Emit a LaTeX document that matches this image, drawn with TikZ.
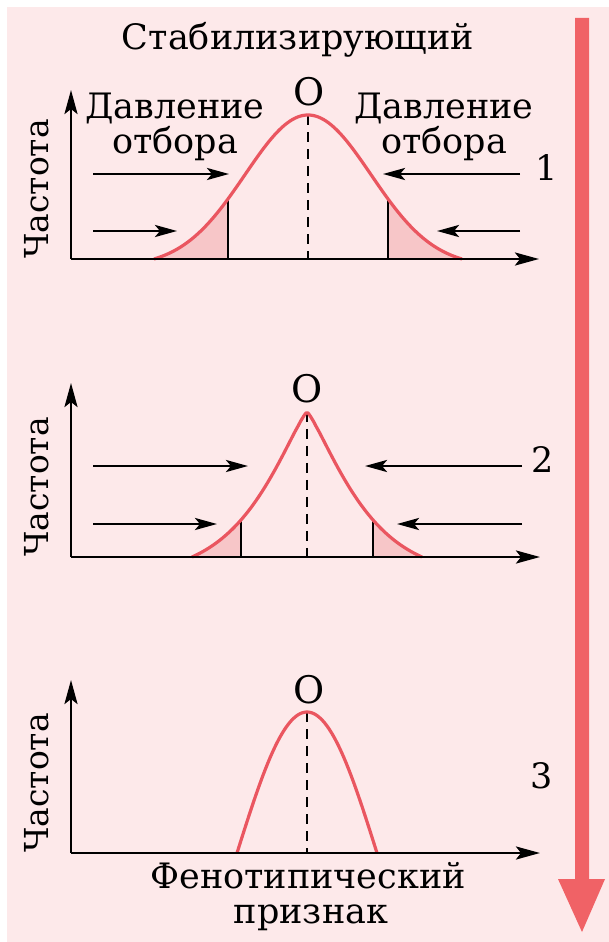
\documentclass[tikz,border=0pt]{standalone}
\usepackage{fontspec}
\setmainfont{DejaVu Serif}
\usetikzlibrary{arrows.meta}
\definecolor{bgpink}{RGB}{253,233,234}
\definecolor{curvered}{RGB}{234,86,96}
\definecolor{tailpink}{RGB}{247,198,200}
\definecolor{bigred}{RGB}{240,98,102}
\pgfmathdeclarefunction{fA}{1}{\pgfmathparse{144*(exp(-0.5*(#1/63)*(#1/63))-0.0504)/0.9496}}
\pgfmathdeclarefunction{fB}{1}{\pgfmathparse{145*(exp(-((abs(#1)+0.01)/62.5)^1.25)-0.1173)/0.8827}}
\pgfmathdeclarefunction{fC}{1}{\pgfmathparse{141*cos(#1*90/70)}}
\tikzset{
  axisline/.style={line width=2.7pt, -{Stealth[length=24pt,width=13pt,inset=5pt]}},
  pressarrow/.style={line width=2.7pt, -{Stealth[length=22pt,width=12pt,inset=5pt]}},
  curveline/.style={curvered, line width=3.2pt, line join=round},
  centerline/.style={line width=2.7pt, dash pattern=on 10pt off 7pt},
  cutline/.style={line width=2.7pt},
  tailfill/.style={fill=tailpink},
  lbl/.style={font=\fontsize{35}{37}\selectfont, anchor=base, inner sep=0pt},
  titlelbl/.style={font=\fontsize{35}{37}\selectfont, anchor=base, inner sep=0pt},
  optlbl/.style={font=\fontsize{38}{40}\selectfont, anchor=base, inner sep=0pt},
  freqlbl/.style={font=\fontsize{33}{35}\selectfont, anchor=base, inner sep=0pt, rotate=90},
  traitlbl/.style={font=\fontsize{35}{37}\selectfont, anchor=base, inner sep=0pt}
}
\begin{document}
\begin{tikzpicture}[x=1pt,y=-1pt]
\useasboundingbox (0,0) rectangle (609,942);
\fill[white] (0,0) rectangle (609,942);
\fill[bgpink] (7,7) rectangle (609,942);
% big trend arrow
\fill[bigred] (575,18) -- (589,18) -- (589,879) -- (605,879) -- (582,932) -- (558,879) -- (575,879) -- cycle;
% title
\node[titlelbl] (title) at (298,50) {Стабилизирующий};

% ---------- panel 1 ----------
\fill[tailfill] plot[domain=-154:-80, samples=40] ({308+\x},{259-fA(\x)}) -- (228,259) -- cycle;
\fill[tailfill] plot[domain=154:80, samples=40] ({308+\x},{259-fA(\x)}) -- (388,259) -- cycle;
\coordinate (o1) at (71,259);
\coordinate (y1) at (71,90);
\coordinate (x1) at (539,259);
\coordinate (peak1) at (308,{259-fA(0)});
\coordinate (foot1) at (308,259);
\coordinate (cl1t) at (228,{259-fA(-80)});
\coordinate (cl1b) at (228,259);
\coordinate (cr1t) at (388,{259-fA(80)});
\coordinate (cr1b) at (388,259);
\draw[centerline] (peak1) -- (foot1);
\draw[cutline] (cl1t) -- (cl1b);
\draw[cutline] (cr1t) -- (cr1b);
\draw[curveline] plot[domain=-154:154, samples=121] ({308+\x},{259-fA(\x)});
\draw[axisline] (o1) -- (y1);
\draw[axisline] (o1) -- (x1);
\coordinate (a1uls) at (93,174);  \coordinate (a1ule) at (229,174);
\coordinate (a1urs) at (520,174); \coordinate (a1ure) at (383,174);
\coordinate (a1lls) at (93,231);  \coordinate (a1lle) at (177,231);
\coordinate (a1lrs) at (520,231); \coordinate (a1lre) at (437,231);
\draw[pressarrow] (a1uls) -- (a1ule);
\draw[pressarrow] (a1urs) -- (a1ure);
\draw[pressarrow] (a1lls) -- (a1lle);
\draw[pressarrow] (a1lrs) -- (a1lre);
\node[lbl] (presL1) at (175,118) {Давление};
\node[lbl] (presL2) at (175,153) {отбора};
\node[lbl] (presR1) at (444,118) {Давление};
\node[lbl] (presR2) at (444,153) {отбора};
\node[optlbl] (opt1) at (309,105) {O};
\node[lbl] (num1) at (547,180) {1};
\node[freqlbl] (freq1) at (48,189) {Частота};

% ---------- panel 2 ----------
\fill[tailfill] plot[domain=-115:-66, samples=30] ({307+\x},{557-fB(\x)}) -- (241,557) -- cycle;
\fill[tailfill] plot[domain=115:66, samples=30] ({307+\x},{557-fB(\x)}) -- (373,557) -- cycle;
\coordinate (o2) at (71,557);
\coordinate (y2) at (71,383);
\coordinate (x2) at (540,557);
\coordinate (peak2) at (307,{557-fB(0)});
\coordinate (foot2) at (307,557);
\coordinate (cl2t) at (241,{557-fB(-66)});
\coordinate (cl2b) at (241,557);
\coordinate (cr2t) at (373,{557-fB(66)});
\coordinate (cr2b) at (373,557);
\draw[centerline] (peak2) -- (foot2);
\draw[cutline] (cl2t) -- (cl2b);
\draw[cutline] (cr2t) -- (cr2b);
\draw[curveline] plot[domain=-115:115, samples=120] ({307+\x},{557-fB(\x)});
\draw[axisline] (o2) -- (y2);
\draw[axisline] (o2) -- (x2);
\coordinate (a2uls) at (93,466);  \coordinate (a2ule) at (248,466);
\coordinate (a2urs) at (522,466); \coordinate (a2ure) at (365,466);
\coordinate (a2lls) at (93,524);  \coordinate (a2lle) at (217,524);
\coordinate (a2lrs) at (522,524); \coordinate (a2lre) at (397,524);
\draw[pressarrow] (a2uls) -- (a2ule);
\draw[pressarrow] (a2urs) -- (a2ure);
\draw[pressarrow] (a2lls) -- (a2lle);
\draw[pressarrow] (a2lrs) -- (a2lre);
\node[optlbl] (opt2) at (307,402) {O};
\node[lbl] (num2) at (543,472) {2};
\node[freqlbl] (freq2) at (48,487) {Частота};

% ---------- panel 3 ----------
\coordinate (o3) at (71,853);
\coordinate (y3) at (71,680);
\coordinate (x3) at (540,853);
\coordinate (peak3) at (307,{853-fC(0)});
\coordinate (foot3) at (307,853);
\draw[centerline] (peak3) -- (foot3);
\draw[curveline] plot[domain=-70:70, samples=81] ({307+\x},{853-fC(\x)});
\draw[axisline] (o3) -- (y3);
\draw[axisline] (o3) -- (x3);
\node[optlbl] (opt3) at (309,703) {O};
\node[lbl] (num3) at (542,788) {3};
\node[freqlbl] (freq3) at (48,783) {Частота};
\node[traitlbl] (trait1) at (308,888) {Фенотипический};
\node[traitlbl] (trait2) at (311,923) {признак};
\end{tikzpicture}
\end{document}
